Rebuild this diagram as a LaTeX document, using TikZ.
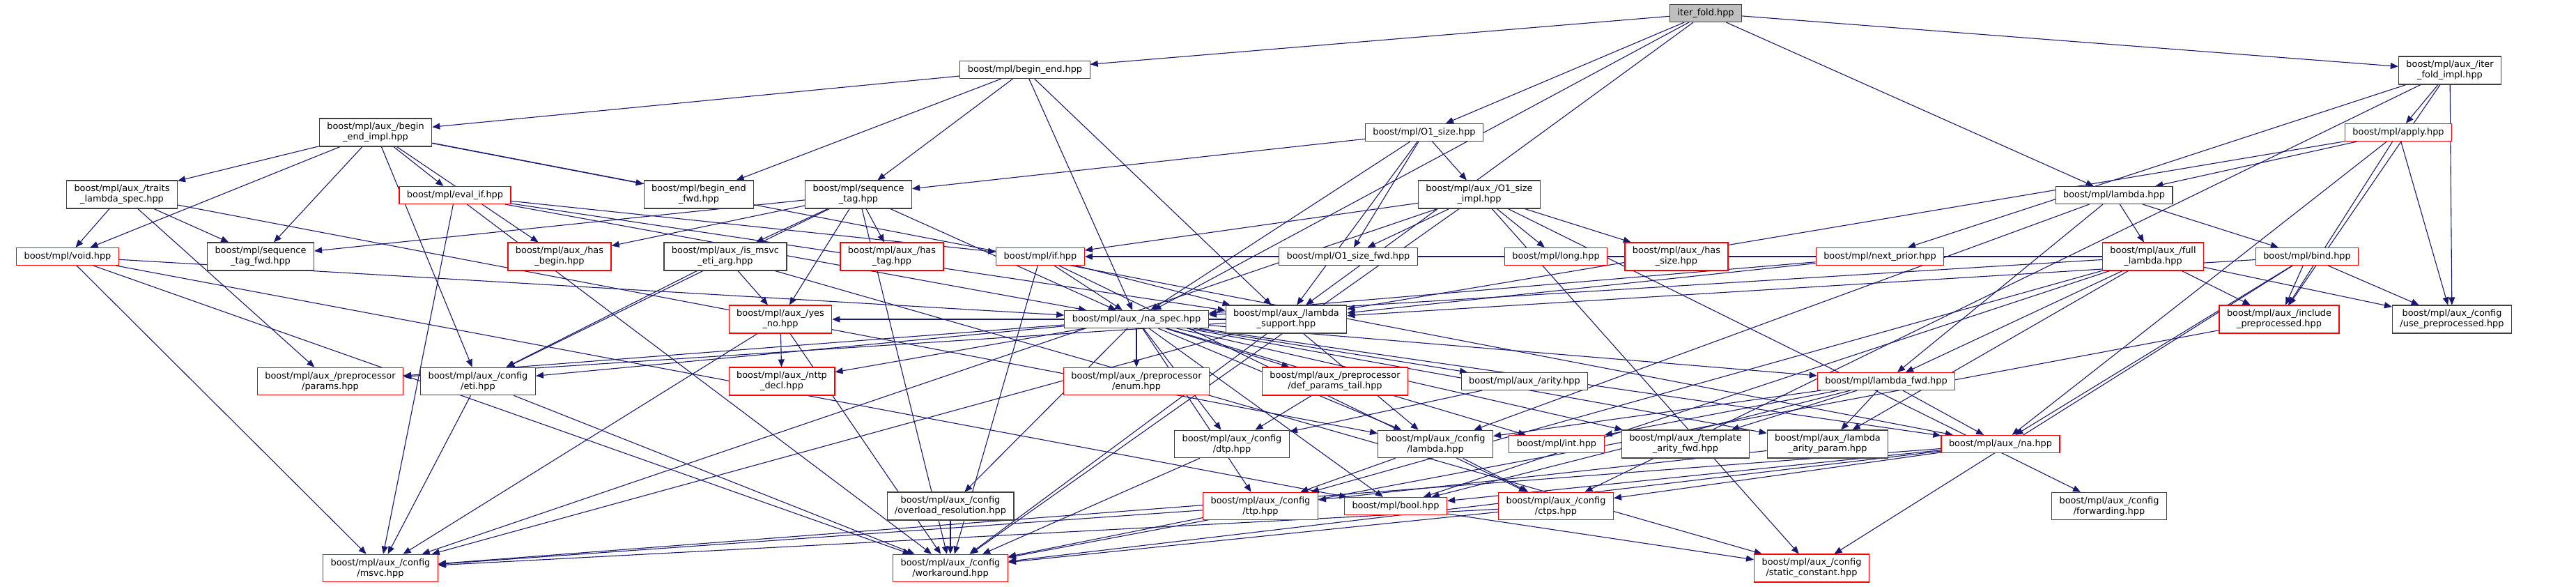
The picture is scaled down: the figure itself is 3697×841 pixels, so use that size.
\documentclass[tikz,border=0pt]{standalone}
\usepackage{fontspec}
\setmainfont{DejaVu Sans}
\usetikzlibrary{arrows.meta,backgrounds}
\definecolor{edgeblue}{RGB}{25,25,112}
\definecolor{boxgrey}{RGB}{64,64,64}
\definecolor{rootfill}{RGB}{191,191,191}
\tikzset{
  hdr/.style={draw=boxgrey, fill=white, line width=1.2pt, inner xsep=11pt, inner ysep=6pt,
    minimum height=25pt, align=center, font={\fontsize{12.9}{15}\selectfont}},
  hdrred/.style={hdr, draw=red},
  hdrroot/.style={hdr, fill=rootfill},
  inc/.style={draw=edgeblue, line width=1.1pt, -{Triangle[length=11pt,width=9pt]}}
}
\begin{document}
\begin{tikzpicture}[x=1pt,y=-1pt]
\useasboundingbox (0,0) rectangle (3697,841);
% rows of header files
\node[hdrroot] (iterfold) at (2448,19) {iter\_fold.hpp};
\node[hdr] (beginend) at (1471,100) {boost/mpl/begin\_end.hpp};
\node[hdr] (itimpl) at (3516,101) {boost/mpl/aux\_/iter\\\_fold\_impl.hpp};
\node[hdr] (beimpl) at (539,190) {boost/mpl/aux\_/begin\\\_end\_impl.hpp};
\node[hdr] (osize) at (2044,190) {boost/mpl/O1\_size.hpp};
\node[hdrred] (apply) at (3442,190) {boost/mpl/apply.hpp};
\node[hdr] (traits) at (175,279) {boost/mpl/aux\_/traits\\\_lambda\_spec.hpp};
\node[hdrred] (evalif) at (653,280) {boost/mpl/eval\_if.hpp};
\node[hdr] (befwd) at (1003,279) {boost/mpl/begin\_end\\\_fwd.hpp};
\node[hdr] (seqtag) at (1232,279) {boost/mpl/sequence\\\_tag.hpp};
\node[hdr] (osimpl) at (2123,279) {boost/mpl/aux\_/O1\_size\\\_impl.hpp};
\node[hdr] (lambda) at (3034,280) {boost/mpl/lambda.hpp};
\node[hdrred] (voidh) at (97,368) {boost/mpl/void.hpp};
\node[hdr] (seqtagfwd) at (374,368) {boost/mpl/sequence\\\_tag\_fwd.hpp};
\node[hdrred] (hasbegin) at (803,368) {boost/mpl/aux\_/has\\\_begin.hpp};
\node[hdr] (ismsvc) at (1041,368) {boost/mpl/aux\_/is\_msvc\\\_eti\_arg.hpp};
\node[hdrred] (hastag) at (1280,368) {boost/mpl/aux\_/has\\\_tag.hpp};
\node[hdrred] (ifh) at (1493,368) {boost/mpl/if.hpp};
\node[hdr] (osfwd) at (1935,368) {boost/mpl/O1\_size\_fwd.hpp};
\node[hdrred] (longh) at (2233,368) {boost/mpl/long.hpp};
\node[hdrred] (hassize) at (2406,368) {boost/mpl/aux\_/has\\\_size.hpp};
\node[hdrred] (nextprior) at (2698,368) {boost/mpl/next\_prior.hpp};
\node[hdrred] (fulllambda) at (3090,368) {boost/mpl/aux\_/full\\\_lambda.hpp};
\node[hdrred] (bind) at (3311,368) {boost/mpl/bind.hpp};
\node[hdrred] (yesno) at (1120,458) {boost/mpl/aux\_/yes\\\_no.hpp};
\node[hdr] (naspec) at (1631,458) {boost/mpl/aux\_/na\_spec.hpp};
\node[hdr] (lsupport) at (1846,458) {boost/mpl/aux\_/lambda\\\_support.hpp};
\node[hdrred] (incpre) at (3271,458) {boost/mpl/aux\_/include\\\_preprocessed.hpp};
\node[hdr] (usepre) at (3519,458) {boost/mpl/aux\_/config\\/use\_preprocessed.hpp};
\node[hdrred] (params) at (474,547) {boost/mpl/aux\_/preprocessor\\/params.hpp};
\node[hdr] (eti) at (686,547) {boost/mpl/aux\_/config\\/eti.hpp};
\node[hdrred] (nttp) at (1122,547) {boost/mpl/aux\_/nttp\\\_decl.hpp};
\node[hdrred] (enumh) at (1631,547) {boost/mpl/aux\_/preprocessor\\/enum.hpp};
\node[hdrred] (dpt) at (1916,547) {boost/mpl/aux\_/preprocessor\\/def\_params\_tail.hpp};
\node[hdr] (arity) at (2188,547) {boost/mpl/aux\_/arity.hpp};
\node[hdrred] (lambdafwd) at (2707,547) {boost/mpl/lambda\_fwd.hpp};
\node[hdr] (dtp) at (1768,637) {boost/mpl/aux\_/config\\/dtp.hpp};
\node[hdr] (cfglambda) at (2060,637) {boost/mpl/aux\_/config\\/lambda.hpp};
\node[hdrred] (inth) at (2234,637) {boost/mpl/int.hpp};
\node[hdr] (tafwd) at (2419,637) {boost/mpl/aux\_/template\\\_arity\_fwd.hpp};
\node[hdr] (laparam) at (2623,637) {boost/mpl/aux\_/lambda\\\_arity\_param.hpp};
\node[hdrred] (nah) at (2871,637) {boost/mpl/aux\_/na.hpp};
\node[hdr] (overload) at (1364,726) {boost/mpl/aux\_/config\\/overload\_resolution.hpp};
\node[hdrred] (ttp) at (1809,726) {boost/mpl/aux\_/config\\/ttp.hpp};
\node[hdrred] (boolh) at (2003,726) {boost/mpl/bool.hpp};
\node[hdrred] (ctps) at (2233,726) {boost/mpl/aux\_/config\\/ctps.hpp};
\node[hdr] (forwarding) at (3027,726) {boost/mpl/aux\_/config\\/forwarding.hpp};
\node[hdrred] (msvc) at (546,815) {boost/mpl/aux\_/config\\/msvc.hpp};
\node[hdrred] (workaround) at (1364,815) {boost/mpl/aux\_/config\\/workaround.hpp};
\node[hdrred] (staticc) at (2600,815) {boost/mpl/aux\_/config\\/static\_constant.hpp};
% include edges
\begin{scope}[on background layer]
\draw[inc] (iterfold)--(beginend);
\draw[inc] (iterfold)--(osize);
\draw[inc] (iterfold)--(lambda);
\draw[inc] (iterfold)--(itimpl);
\draw[inc] (iterfold)--(naspec);
\draw[inc] (iterfold)--(lsupport);
\draw[inc] (beginend)--(befwd);
\draw[inc] (beginend)--(beimpl);
\draw[inc] (beginend)--(seqtag);
\draw[inc] (beginend)--(naspec);
\draw[inc] (beginend)--(lsupport);
\draw[inc] (beimpl)--(befwd);
\draw[inc] (beimpl)--(seqtagfwd);
\draw[inc] (beimpl)--(voidh);
\draw[inc] (beimpl)--(evalif);
\draw[inc] (beimpl)--(hasbegin);
\draw[inc] (beimpl)--(nah);
\draw[inc] (beimpl)--(traits);
\draw[inc] (beimpl)--(eti);
\draw[inc] (seqtag)--(seqtagfwd);
\draw[inc] (seqtag)--(hastag);
\draw[inc] (seqtag)--(hasbegin);
\draw[inc] (seqtag)--(naspec);
\draw[inc] (seqtag)--(ismsvc);
\draw[inc] (seqtag)--(eti);
\draw[inc] (seqtag)--(yesno);
\draw[inc] (seqtag)--(workaround);
\draw[inc] (osize)--(osfwd);
\draw[inc] (osize)--(seqtag);
\draw[inc] (osize)--(osimpl);
\draw[inc] (osize)--(naspec);
\draw[inc] (osize)--(lsupport);
\draw[inc] (osimpl)--(osfwd);
\draw[inc] (osimpl)--(longh);
\draw[inc] (osimpl)--(ifh);
\draw[inc] (osimpl)--(hassize);
\draw[inc] (osimpl)--(forwarding);
\draw[inc] (osimpl)--(staticc);
\draw[inc] (osimpl)--(msvc);
\draw[inc] (osimpl)--(workaround);
\draw[inc] (itimpl)--(nextprior);
\draw[inc] (itimpl)--(apply);
\draw[inc] (itimpl)--(ctps);
\draw[inc] (itimpl)--(usepre);
\draw[inc] (itimpl)--(incpre);
\draw[inc] (apply)--(lambda);
\draw[inc] (apply)--(nah);
\draw[inc] (apply)--(lsupport);
\draw[inc] (apply)--(usepre);
\draw[inc] (apply)--(incpre);
\draw[inc] (lambda)--(lambdafwd);
\draw[inc] (lambda)--(cfglambda);
\draw[inc] (lambda)--(fulllambda);
\draw[inc] (lambda)--(bind);
\draw[inc] (fulllambda)--(lambdafwd);
\draw[inc] (fulllambda)--(boolh);
\draw[inc] (fulllambda)--(naspec);
\draw[inc] (fulllambda)--(ttp);
\draw[inc] (fulllambda)--(ifh);
\draw[inc] (fulllambda)--(laparam);
\draw[inc] (fulllambda)--(usepre);
\draw[inc] (fulllambda)--(incpre);
\draw[inc] (bind)--(lsupport);
\draw[inc] (bind)--(nah);
\draw[inc] (bind)--(incpre);
\draw[inc] (bind)--(staticc);
\draw[inc] (bind)--(usepre);
\draw[inc] (nextprior)--(naspec);
\draw[inc] (nextprior)--(lsupport);
\draw[inc] (evalif)--(ifh);
\draw[inc] (evalif)--(naspec);
\draw[inc] (evalif)--(lsupport);
\draw[inc] (evalif)--(msvc);
\draw[inc] (evalif)--(workaround);
\draw[inc] (ifh)--(naspec);
\draw[inc] (ifh)--(lsupport);
\draw[inc] (ifh)--(ctps);
\draw[inc] (ifh)--(workaround);
\draw[inc] (traits)--(seqtagfwd);
\draw[inc] (traits)--(voidh);
\draw[inc] (traits)--(params);
\draw[inc] (traits)--(cfglambda);
\draw[inc] (voidh)--(naspec);
\draw[inc] (voidh)--(boolh);
\draw[inc] (voidh)--(msvc);
\draw[inc] (voidh)--(workaround);
\draw[inc] (yesno)--(nttp);
\draw[inc] (yesno)--(msvc);
\draw[inc] (yesno)--(workaround);
\draw[inc] (ismsvc)--(yesno);
\draw[inc] (ismsvc)--(eti);
\draw[inc] (ismsvc)--(staticc);
\draw[inc] (naspec)--(lambdafwd);
\draw[inc] (naspec)--(inth);
\draw[inc] (naspec)--(boolh);
\draw[inc] (naspec)--(nah);
\draw[inc] (naspec)--(arity);
\draw[inc] (naspec)--(tafwd);
\draw[inc] (naspec)--(params);
\draw[inc] (naspec)--(enumh);
\draw[inc] (naspec)--(dpt);
\draw[inc] (naspec)--(laparam);
\draw[inc] (naspec)--(dtp);
\draw[inc] (naspec)--(eti);
\draw[inc] (naspec)--(nttp);
\draw[inc] (naspec)--(ttp);
\draw[inc] (naspec)--(cfglambda);
\draw[inc] (naspec)--(overload);
\draw[inc] (lsupport)--(cfglambda);
\draw[inc] (lsupport)--(yesno);
\draw[inc] (lsupport)--(params);
\draw[inc] (lsupport)--(msvc);
\draw[inc] (lsupport)--(workaround);
\draw[inc] (eti)--(msvc);
\draw[inc] (eti)--(workaround);
\draw[inc] (dtp)--(workaround);
\draw[inc] (arity)--(dtp);
\draw[inc] (dpt)--(dtp);
\draw[inc] (cfglambda)--(ttp);
\draw[inc] (cfglambda)--(ctps);
\draw[inc] (lambdafwd)--(tafwd);
\draw[inc] (lambdafwd)--(laparam);
\draw[inc] (lambdafwd)--(nah);
\draw[inc] (lambdafwd)--(cfglambda);
\draw[inc] (lambdafwd)--(inth);
\draw[inc] (lambdafwd)--(boolh);
\draw[inc] (laparam)--(ttp);
\draw[inc] (nah)--(boolh);
\draw[inc] (nah)--(ctps);
\draw[inc] (nah)--(msvc);
\draw[inc] (nah)--(workaround);
\draw[inc] (overload)--(workaround);
\draw[inc] (ttp)--(msvc);
\draw[inc] (ttp)--(workaround);
\draw[inc] (ctps)--(msvc);
\draw[inc] (ctps)--(workaround);
\draw[inc] (boolh)--(staticc);
\draw[inc] (incpre)--(workaround);
\end{scope}
\end{tikzpicture}
\end{document}
